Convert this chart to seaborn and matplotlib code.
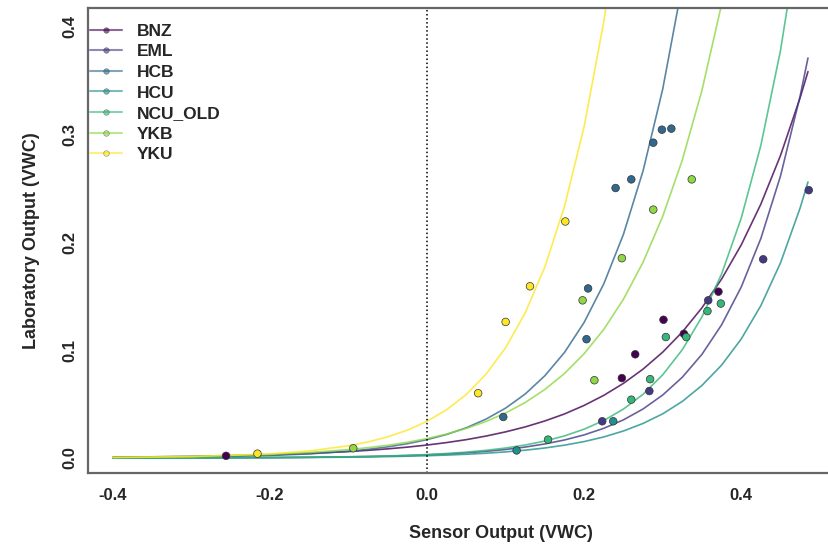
import pandas as pd
import matplotlib.pyplot as plt
import seaborn as sns
from matplotlib.lines import Line2D

# ── Sites and colours (viridis, 7 levels) ───────────────────────────────────
SITES  = ["BNZ", "EML", "HCB", "HCU", "NCU_OLD", "YKB", "YKU"]
COLORS = ["#440154", "#443A83", "#31688E", "#21908C", "#35B779", "#8FD744", "#FDE725"]

# ── Calibration points (sensor vs laboratory VWC) ───────────────────────────
bnz_x  = [-0.256, 0.248, 0.265, 0.301, 0.327, 0.371]
bnz_y  = [0.002, 0.074, 0.096, 0.128, 0.115, 0.154]
eml_x  = [0.223, 0.283, 0.358, 0.428, 0.486]
eml_y  = [0.034, 0.062, 0.146, 0.184, 0.248]
hcb_x  = [0.097, 0.203, 0.205, 0.240, 0.260, 0.288, 0.299, 0.311]
hcb_y  = [0.038, 0.110, 0.157, 0.250, 0.258, 0.292, 0.304, 0.305]
hcu_x  = [0.114, 0.237]
hcu_y  = [0.007, 0.034]
ncu_x  = [0.154, 0.260, 0.284, 0.304, 0.330, 0.357, 0.374]
ncu_y  = [0.017, 0.054, 0.073, 0.112, 0.112, 0.136, 0.143]
ykb_x  = [-0.094, 0.198, 0.213, 0.248, 0.288, 0.337]
ykb_y  = [0.009, 0.146, 0.072, 0.185, 0.230, 0.258]
yku_x  = [-0.216, 0.065, 0.100, 0.131, 0.176]
yku_y  = [0.004, 0.060, 0.126, 0.159, 0.219]

curve_x = [-0.4, -0.3, -0.2, -0.15, -0.1, -0.075, -0.05, -0.025, 0.0,
           0.025, 0.05, 0.075, 0.1, 0.125, 0.15, 0.175, 0.2, 0.225, 0.25,
           0.275, 0.3, 0.325, 0.35, 0.375, 0.4, 0.425, 0.45, 0.475, 0.485]
bnz_fit = [0.00073, 0.00147, 0.00296, 0.0042, 0.00596, 0.0071, 0.00846, 0.01007,
           0.012, 0.0143, 0.0170, 0.0203, 0.0242, 0.0288, 0.0343, 0.0408,
           0.0487, 0.0580, 0.0691, 0.0823, 0.0980, 0.1167, 0.1391, 0.1657,
           0.1973, 0.2351, 0.2801, 0.3336, 0.3578]
eml_fit = [0.00005, 0.00014, 0.00039, 0.00065, 0.00107, 0.00137, 0.00176, 0.00226,
           0.0029, 0.00372, 0.0048, 0.00614, 0.0079, 0.01012, 0.0130, 0.01669,
           0.0214, 0.0275, 0.0353, 0.0454, 0.0583, 0.0748, 0.0960, 0.1233,
           0.1583, 0.2033, 0.2611, 0.3352, 0.3704]
hcb_fit = [0.00031, 0.00085, 0.0023, 0.00379, 0.00625, 0.00803, 0.0103, 0.01324,
           0.017, 0.02183, 0.0280, 0.0360, 0.0462, 0.0593, 0.0762, 0.0978,
           0.1256, 0.1613, 0.2071, 0.2659, 0.3415, 0.4385]
hcu_fit = [0.00004, 0.00011, 0.00029, 0.00048, 0.00078, 0.0010, 0.00128, 0.00164,
           0.0021, 0.00269, 0.00345, 0.00441, 0.00565, 0.00724, 0.00927, 0.01188,
           0.0152, 0.0195, 0.0250, 0.0320, 0.0409, 0.0524, 0.0672, 0.0860,
           0.1102, 0.1411, 0.1807, 0.2315, 0.2556]
ncu_fit = [0.00005, 0.00013, 0.00038, 0.00065, 0.00111, 0.00145, 0.00188, 0.00246,
           0.0032, 0.00417, 0.00544, 0.00709, 0.00924, 0.01204, 0.0157, 0.02045,
           0.0267, 0.0347, 0.0453, 0.0590, 0.0770, 0.1003, 0.1307, 0.1704,
           0.2221, 0.2895, 0.3773, 0.4918]
ykb_fit = [0.00063, 0.00145, 0.00336, 0.00511, 0.00777, 0.00959, 0.0118, 0.01459,
           0.018, 0.0222, 0.0274, 0.0338, 0.0417, 0.0514, 0.0635, 0.0783,
           0.0966, 0.1191, 0.1470, 0.1813, 0.2237, 0.2760, 0.3405, 0.4201, 0.518]
yku_fit = [0.00042, 0.00125, 0.00377, 0.00653, 0.0113, 0.0149, 0.0196, 0.0258,
           0.034, 0.0448, 0.0589, 0.0776, 0.1021, 0.1345, 0.177, 0.2331,
           0.307, 0.404, 0.532]

points = {"BNZ": (bnz_x, bnz_y), "EML": (eml_x, eml_y), "HCB": (hcb_x, hcb_y),
          "HCU": (hcu_x, hcu_y), "NCU_OLD": (ncu_x, ncu_y), "YKB": (ykb_x, ykb_y),
          "YKU": (yku_x, yku_y)}
fits = {"BNZ": bnz_fit, "EML": eml_fit, "HCB": hcb_fit, "HCU": hcu_fit,
        "NCU_OLD": ncu_fit, "YKB": ykb_fit, "YKU": yku_fit}

pts_df = pd.concat(
    [pd.DataFrame({"site": s, "sensor": points[s][0], "lab": points[s][1]}) for s in SITES],
    ignore_index=True)
fit_df = pd.concat(
    [pd.DataFrame({"site": s, "sensor": curve_x[:len(fits[s])], "lab": fits[s]}) for s in SITES],
    ignore_index=True)
palette = dict(zip(SITES, COLORS))

# ── Plot ────────────────────────────────────────────────────────────────────
sns.set_theme(style="white")
plt.rcParams["font.family"] = ["Liberation Sans", "DejaVu Sans"]

fig = plt.figure(figsize=(8.29, 5.53), dpi=100)
ax = fig.add_axes([88 / 829, 80 / 553, 826 / 829, 465 / 553])

sns.lineplot(data=fit_df, x="sensor", y="lab", hue="site", palette=palette,
             hue_order=SITES, estimator=None, sort=True, linewidth=1.2,
             alpha=0.8, legend=False, ax=ax)
ax.axvline(0, color="black", linestyle=":", linewidth=1.1)
sns.scatterplot(data=pts_df, x="sensor", y="lab", hue="site", palette=palette,
                hue_order=SITES, s=30, edgecolor="#333333", linewidth=0.5,
                legend=False, ax=ax, zorder=5)

ax.set_xlim(-0.4318, 0.62)
ax.set_ylim(-0.0139, 0.4167)
ax.set_xticks([-0.4, -0.2, 0.0, 0.2, 0.4])
ax.set_xticklabels(["-0.4", "-0.2", "0.0", "0.2", "0.4"])
ax.set_yticks([0.0, 0.1, 0.2, 0.3, 0.4])
ax.set_yticklabels(["0.0", "0.1", "0.2", "0.3", "0.4"], rotation=90, va="center")
ax.tick_params(axis="both", direction="out", length=5, width=1, color="#555555",
               labelsize=12)
ax.tick_params(axis="x", pad=6)
ax.tick_params(axis="y", pad=3)
for lab in ax.get_xticklabels() + ax.get_yticklabels():
    lab.set_fontweight("bold")
for sp in ax.spines.values():
    sp.set_color("#666666")
    sp.set_linewidth(1.6)

ax.set_xlabel("Sensor Output (VWC)", fontsize=13, fontweight="bold", labelpad=16)
ax.set_ylabel("Laboratory Output (VWC)", fontsize=13, fontweight="bold", labelpad=16)

handles = [Line2D([0], [0], color=c, lw=1.5, alpha=0.6, marker="o", markersize=4,
                  markerfacecolor=c, markeredgecolor="#333333", markeredgewidth=0.4)
           for c in COLORS]
ax.legend(handles, SITES, loc="upper left", bbox_to_anchor=(0.002, 0.966),
          frameon=False, handlelength=1.85, handletextpad=0.85, labelspacing=0.31,
          borderpad=0.0, borderaxespad=0.0, prop={"size": 12.5, "weight": "bold"})

fig.savefig("out.png", dpi=100)
